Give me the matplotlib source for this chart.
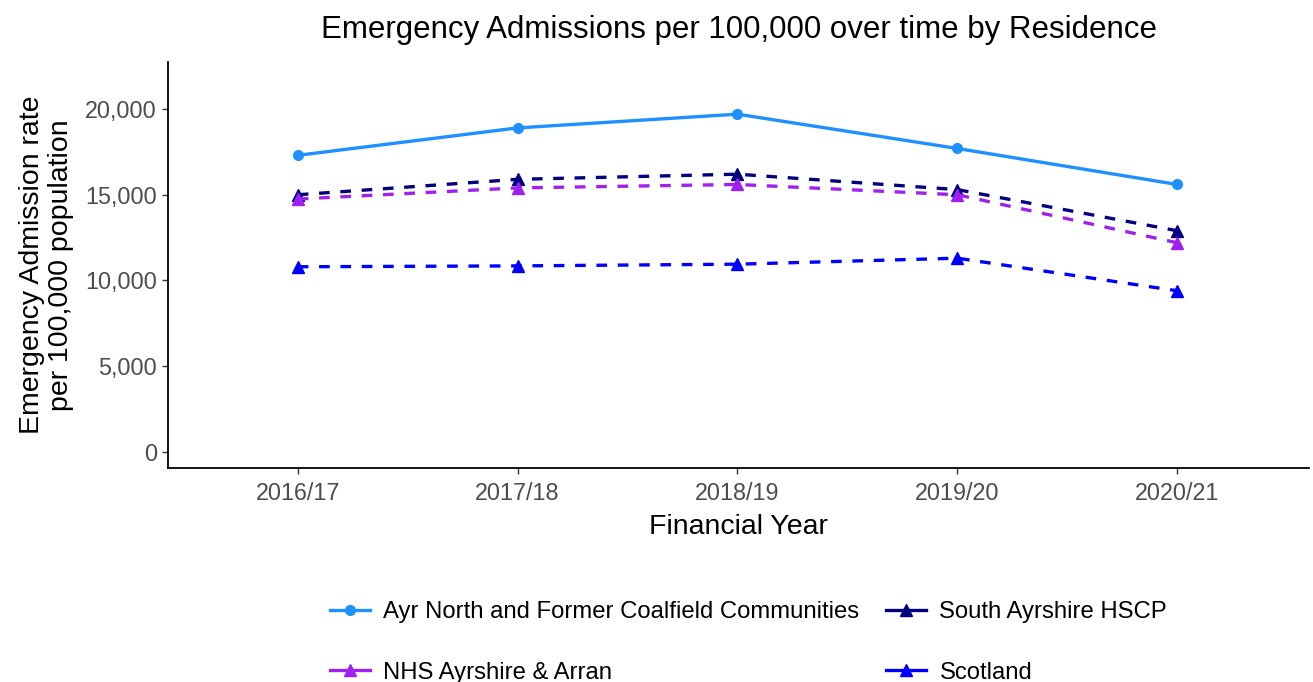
import matplotlib
matplotlib.use("Agg")
import matplotlib.pyplot as plt
from matplotlib.ticker import FuncFormatter

plt.rcParams['font.family'] = ['Liberation Sans', 'DejaVu Sans']

years = ["2016/17", "2017/18", "2018/19", "2019/20", "2020/21"]
ayr_north = [17300, 18900, 19700, 17700, 15600]
south_ayrshire = [15000, 15900, 16200, 15300, 12900]
nhs_aa = [14750, 15400, 15600, 15000, 12200]
scotland = [10800, 10850, 10950, 11300, 9400]

fig = plt.figure(figsize=(13.13, 6.82), dpi=100)
ax = fig.add_axes([0.128, 0.314, 0.869, 0.595])

x = list(range(len(years)))
dash = (0, (3.2, 3.2))
h1, = ax.plot(x, ayr_north, color='#1E90FF', lw=2.4, marker='o', ms=7,
              label='Ayr North and Former Coalfield Communities')
h2, = ax.plot(x, south_ayrshire, color='#000080', lw=2.4, ls=dash, marker='^', ms=8.5,
              label='South Ayrshire HSCP')
h3, = ax.plot(x, nhs_aa, color='#A020F0', lw=2.4, ls=dash, marker='^', ms=8.5,
              label='NHS Ayrshire & Arran')
h4, = ax.plot(x, scotland, color='#0000FF', lw=2.4, ls=dash, marker='^', ms=8.5,
              label='Scotland')

ax.set_xlim(-0.59, 4.6)
ax.set_ylim(-930, 22740)
ax.set_yticks([0, 5000, 10000, 15000, 20000])
ax.yaxis.set_major_formatter(FuncFormatter(lambda v, p: f"{int(v):,}"))
ax.set_xticks(x)
ax.set_xticklabels(years)
for s in ['top', 'right']:
    ax.spines[s].set_visible(False)
for s in ['left', 'bottom']:
    ax.spines[s].set_linewidth(1.3)
ax.tick_params(axis='both', colors='#333333', labelcolor='#4D4D4D', labelsize=16.8,
               length=4, width=1, pad=4)
ax.tick_params(axis='x', pad=6.5)
ax.set_xlabel('Financial Year', fontsize=20.5, color='black', labelpad=6)
ax.set_ylabel('Emergency Admission rate\nper 100,000 population', fontsize=20.5,
              color='black', labelpad=8, linespacing=1.15)
ax.set_title('Emergency Admissions per 100,000 over time by Residence',
             fontsize=22.5, pad=17)

leg = fig.legend(handles=[h1, h3, h2, h4], loc='center', ncol=2,
                 bbox_to_anchor=(0.57, 0.058), frameon=False, fontsize=17.2,
                 labelspacing=1.6, columnspacing=1.1, handlelength=1.7,
                 handletextpad=0.55)
for line in leg.get_lines():
    line.set_linestyle('-')

fig.savefig('out.png', dpi=100)
